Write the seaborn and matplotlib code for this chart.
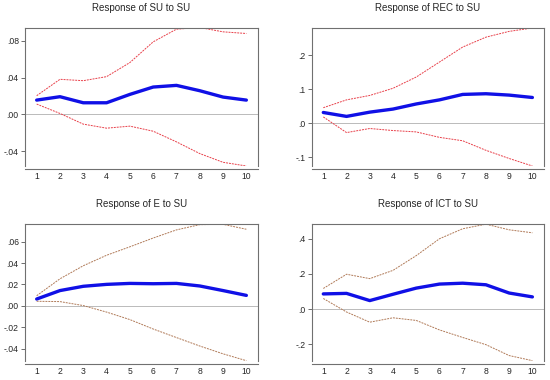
import numpy as np
import pandas as pd
import seaborn as sns
import matplotlib.pyplot as plt
from matplotlib.ticker import FixedLocator

# periodos
periodos = [1, 2, 3, 4, 5, 6, 7, 8, 9, 10]

# Response of SU to SU
su_resp = [0.0156, 0.0193, 0.0127, 0.0127, 0.0218, 0.0298, 0.0316, 0.0258, 0.0189, 0.0156]
su_sup = [0.0204, 0.0382, 0.0367, 0.0411, 0.0564, 0.0789, 0.0927, 0.0945, 0.0898, 0.0880]
su_inf = [0.0113, 0.0011, -0.0105, -0.0149, -0.0127, -0.0182, -0.0298, -0.0425, -0.0520, -0.0560]

# Response of REC to SU
rec_resp = [0.032, 0.0205, 0.033, 0.042, 0.057, 0.069, 0.085, 0.087, 0.083, 0.076]
rec_sup = [0.046, 0.069, 0.082, 0.103, 0.136, 0.180, 0.224, 0.253, 0.270, 0.280]
rec_inf = [0.019, -0.027, -0.015, -0.021, -0.025, -0.041, -0.051, -0.079, -0.103, -0.125]

# Response of E to SU
e_resp = [0.0064, 0.0143, 0.0183, 0.0201, 0.0210, 0.0207, 0.0210, 0.0186, 0.0143, 0.0098]
e_sup = [0.0095, 0.0253, 0.0375, 0.0473, 0.0552, 0.0634, 0.0710, 0.0759, 0.0762, 0.0716]
e_inf = [0.0043, 0.0040, 0.0003, -0.0058, -0.0128, -0.0216, -0.0296, -0.0375, -0.0448, -0.0512]

# Response of ICT to SU
ict_resp = [0.086, 0.089, 0.048, 0.084, 0.119, 0.142, 0.147, 0.138, 0.091, 0.069]
ict_sup = [0.117, 0.198, 0.173, 0.220, 0.304, 0.400, 0.457, 0.483, 0.451, 0.434]
ict_inf = [0.060, -0.017, -0.075, -0.050, -0.065, -0.119, -0.162, -0.203, -0.265, -0.294]

# ticks do eixo y (EViews)
su_yticks = [-0.04, 0.0, 0.04, 0.08]
su_ylabels = ['-.04', '.00', '.04', '.08']
rec_yticks = [-0.1, 0.0, 0.1, 0.2]
rec_ylabels = ['-.1', '.0', '.1', '.2']
e_yticks = [-0.04, -0.02, 0.0, 0.02, 0.04, 0.06]
e_ylabels = ['-.04', '-.02', '.00', '.02', '.04', '.06']
ict_yticks = [-0.2, 0.0, 0.2, 0.4]
ict_ylabels = ['-.2', '.0', '.2', '.4']

sns.set_style('white')
plt.rcParams['font.family'] = ['Liberation Sans', 'DejaVu Sans']

fig = plt.figure(figsize=(5.5, 3.8), dpi=100)


def painel(pos, titulo, resp, sup, inf, yticks, ylabels, ylim, cor_banda):
    ax = fig.add_axes(pos)
    df = pd.DataFrame({'periodo': periodos, 'resp': resp, 'sup': sup, 'inf': inf})
    ax.axhline(0, color='#b0b0b0', lw=0.6, zorder=1)
    sns.lineplot(data=df, x='periodo', y='sup', ax=ax, color=cor_banda, lw=0.7,
                 linestyle=(0, (2, 1)), zorder=2)
    sns.lineplot(data=df, x='periodo', y='inf', ax=ax, color=cor_banda, lw=0.7,
                 linestyle=(0, (2, 1)), zorder=2)
    sns.lineplot(data=df, x='periodo', y='resp', ax=ax, color='#1010e6', lw=2.4, zorder=3)
    ax.set_xlim(0.5, 10.5)
    ax.set_ylim(*ylim)
    ax.set_xlabel('')
    ax.set_ylabel('')
    ax.set_title(titulo, fontsize=7, pad=12)
    ax.set_yticks(yticks)
    ax.set_yticklabels(ylabels)
    ax.set_xticks(periodos)
    ax.xaxis.set_minor_locator(FixedLocator(np.arange(0.5, 11, 1)))
    ax.tick_params(axis='x', which='major', length=0, labelsize=6.2, pad=2)
    ax.tick_params(axis='x', which='minor', length=3, width=0.6, direction='out', color='#555555')
    ax.tick_params(axis='y', length=3, width=0.6, direction='out', labelsize=6.2, pad=1.5,
                   color='#555555', left=True)
    for lado in ['left', 'right', 'top', 'bottom']:
        ax.spines[lado].set_visible(True)
        ax.spines[lado].set_color('#707070')
        ax.spines[lado].set_linewidth(0.8)
    ax.spines['bottom'].set_position(('outward', 2.5))
    ax.spines['right'].set_bounds(ylim[0], ylim[1])
    ax.patch.set_alpha(0)
    return ax


painel([0.0455, 0.5632, 0.4236, 0.3632], 'Response of SU to SU', su_resp, su_sup, su_inf,
       su_yticks, su_ylabels, (-0.056, 0.094), '#e8404a')
painel([0.5667, 0.5632, 0.4224, 0.3632], 'Response of REC to SU', rec_resp, rec_sup, rec_inf,
       rec_yticks, rec_ylabels, (-0.125, 0.28), '#e8404a')
painel([0.0455, 0.0500, 0.4236, 0.3605], 'Response of E to SU', e_resp, e_sup, e_inf,
       e_yticks, e_ylabels, (-0.0515, 0.0765), '#b07a58')
painel([0.5667, 0.0500, 0.4224, 0.3605], 'Response of ICT to SU', ict_resp, ict_sup, ict_inf,
       ict_yticks, ict_ylabels, (-0.296, 0.484), '#b07a58')

fig.savefig('out.png', dpi=100)
